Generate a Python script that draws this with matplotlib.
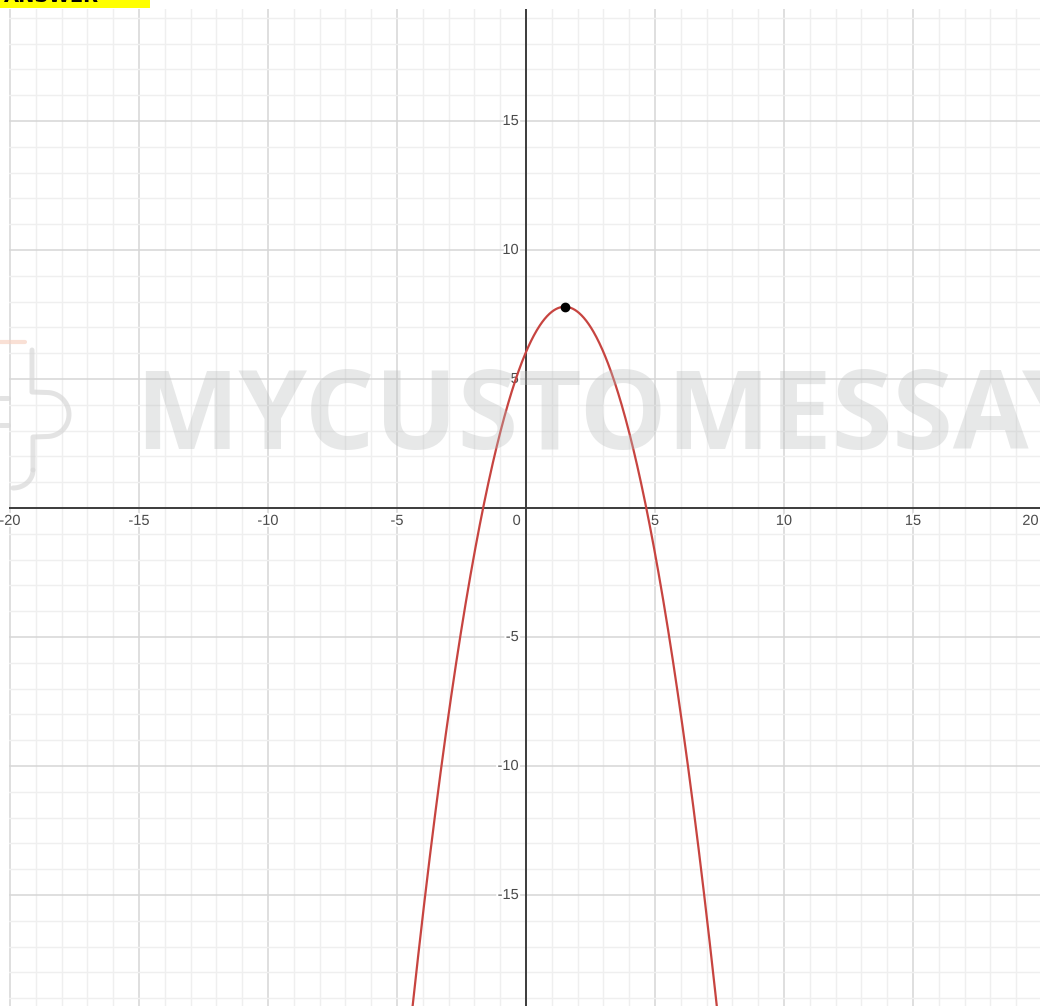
import numpy as np
import matplotlib.pyplot as plt
import matplotlib.patheffects as pe
from matplotlib.lines import Line2D
from matplotlib.patches import Rectangle

# parabola y = a*x^2 + b*x + c and its marked maximum
coeffs = [-0.78, 2.34, 6.045]
vertex = [1.5, 7.8]

x_labels = [-20, -15, -10, -5, 5, 10, 15, 20]
y_labels = [-15, -10, -5, 5, 10, 15]

W, H = 1040, 1006
fig = plt.figure(figsize=(W / 100, H / 100), dpi=100)

# plot area starts just under the banner
left_px, top_px = 9, 9
ax = fig.add_axes([left_px / W, 0, 1 - left_px / W, 1 - top_px / H])

ppu = 25.8          # pixels per unit
x0_px, y0_px = 526, 508

# grid: minor every unit, major every 5
ax.set_xticks(np.arange(-20, 21, 5))
ax.set_yticks(np.arange(-20, 21, 5))
ax.set_xticks(np.arange(-21, 22, 1), minor=True)
ax.set_yticks(np.arange(-21, 22, 1), minor=True)
ax.grid(which='minor', color='#efefef', lw=1.0, zorder=0)
ax.grid(which='major', color='#d6d6d6', lw=1.1, zorder=0)
ax.tick_params(which='both', length=0, labelbottom=False, labelleft=False)
for s in ax.spines.values():
    s.set_visible(False)
ax.set_axisbelow(True)

# limits after the ticks, otherwise set_xticks widens the view
ax.set_xlim((left_px - x0_px) / ppu, (W - x0_px) / ppu)
ax.set_ylim((y0_px - H) / ppu, (y0_px - top_px) / ppu)

ax.axhline(0, color='#3c3c3c', lw=1.4, zorder=2)
ax.axvline(0, color='#3c3c3c', lw=1.4, zorder=2)

halo = [pe.withStroke(linewidth=3, foreground='white')]
lab = dict(fontsize=10.5, color='#4a4a4a', family='Liberation Sans', path_effects=halo, zorder=3)
xmax = ax.get_xlim()[1]
for v in x_labels:
    if v >= xmax:
        ax.text(xmax - 0.05, -0.5, str(v), ha='right', va='center', **lab)
    else:
        ax.text(v, -0.5, str(v), ha='center', va='center', **lab)
ax.text(-0.2, -0.5, '0', ha='right', va='center', **lab)
for v in y_labels:
    ax.text(-0.28, v, str(v), ha='right', va='center', **lab)

# the curve
xs = np.linspace(-6, 9, 800)
ax.plot(xs, np.polyval(coeffs, xs), color='#c74440', lw=1.6, zorder=4)
ax.plot(*vertex, 'o', color='black', ms=6, zorder=5)

# watermark over the graph
fig.text(135 / W, 1 - 449 / H, 'MYCUSTOMESSAY', fontsize=79, fontweight='bold',
         family='Open Sans', color='#b9bcbc', alpha=0.34, ha='left', va='baseline', zorder=10)


def px(x, y):
    return x / W, 1 - y / H


def fig_line(pts, color='#d8d8d8', lw=3.6):
    xx, yy = zip(*[px(*p) for p in pts])
    fig.add_artist(Line2D(xx, yy, color=color, lw=lw, alpha=0.7, solid_capstyle='round', zorder=10))


# logo outline
th = np.linspace(np.pi / 2, -np.pi / 2, 30)
bump = [(47 + 22 * np.cos(t), 414.5 - 22 * np.sin(t)) for t in th]
fig_line([(32, 350), (32, 392)] + [(32, 392), (47, 392.5)] + bump + [(33, 437), (33, 470)])
tail = np.linspace(0, np.pi / 2, 20)
fig_line([(13 + 20 * np.cos(t), 470 + 18 * np.sin(t)) for t in tail])
fig_line([(0, 398), (8, 398)])
fig_line([(0, 425), (8, 425)])
fig_line([(0, 342), (25, 342)], color='#f7d3c4', lw=3)

# banner in the top-left corner
fig.add_artist(Rectangle(px(0, 8), 150 / W, 8 / H, transform=fig.transFigure,
                         facecolor='#ffff00', edgecolor='none', zorder=11))
fig.text(px(4, 0)[0], px(0, 6)[1], 'ANSWER', fontsize=14, fontweight='bold', color='black',
         ha='left', va='bottom', zorder=12, clip_on=False)

fig.savefig('out.png', dpi=100)
